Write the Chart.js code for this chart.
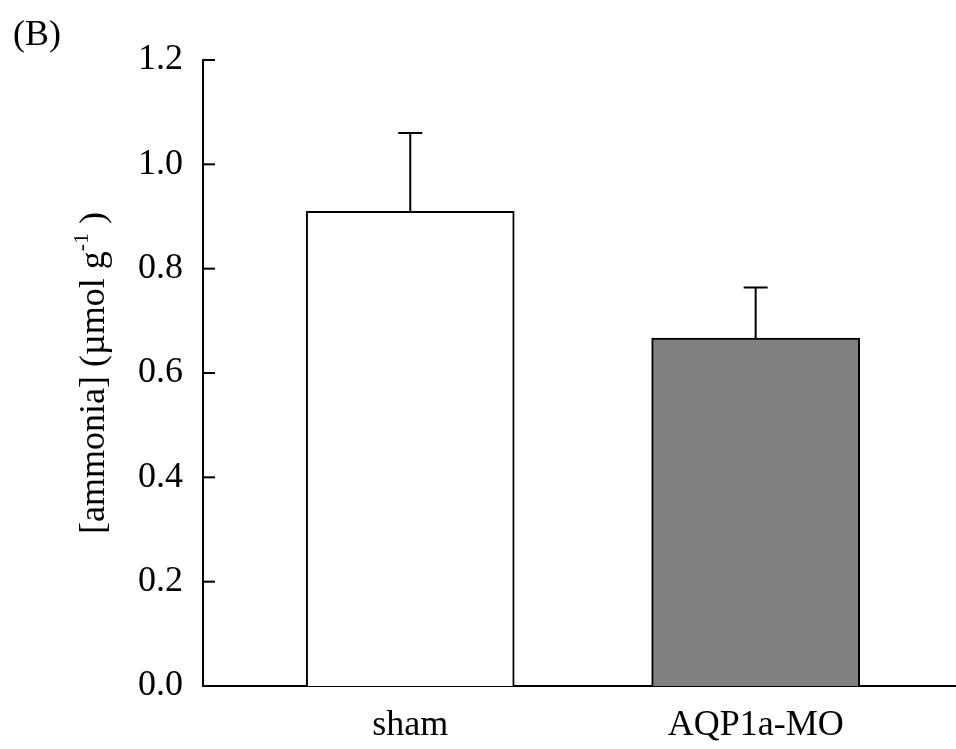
<!DOCTYPE html>
<html>
<head>
<meta charset="utf-8">
<script src="https://cdn.jsdelivr.net/npm/chart.js@4"></script>
<style>
    body { margin: 0; background: white; }
    #wrap { width: 956px; height: 749px; }
</style>
</head>
<body>
<div id="wrap"><canvas id="barchart"></canvas></div>
<script>
const groups = ['sham', 'AQP1a-MO'];
const groupPos = [1, 2];
const means = [0.91, 0.667];
const errors = [0.15, 0.097];
const yTicks = [0, 0.2, 0.4, 0.6, 0.8, 1.0, 1.2];
const barColors = ['#ffffff', '#808080'];

const FONT = "'Liberation Serif', 'Times New Roman', serif";

// inward ticks on the y axis, error bars, title with superscript, panel letter
const extras = {
    id: 'extras',
    afterDatasetsDraw(chart) {
        const ctx = chart.ctx;
        const x = chart.scales.x;
        const y = chart.scales.y;
        const area = chart.chartArea;
        ctx.save();
        ctx.strokeStyle = '#000';
        ctx.lineWidth = 2;

        // error bars (up only)
        means.forEach((m, i) => {
            const px = x.getPixelForValue(groupPos[i]);
            const top = y.getPixelForValue(m + errors[i]);
            const base = y.getPixelForValue(m);
            ctx.beginPath();
            ctx.moveTo(px, base);
            ctx.lineTo(px, top);
            ctx.moveTo(px - 12, top);
            ctx.lineTo(px + 12, top);
            ctx.stroke();
        });

        // ticks pointing inward
        yTicks.forEach((t) => {
            const py = y.getPixelForValue(t);
            ctx.beginPath();
            ctx.moveTo(area.left, py);
            ctx.lineTo(area.left + 12, py);
            ctx.stroke();
        });

        // y title
        ctx.fillStyle = '#000';
        ctx.translate(95, (area.top + area.bottom) / 2);
        ctx.rotate(-Math.PI / 2);
        ctx.textBaseline = 'middle';
        const big = '36px ' + FONT;
        const small = '22px ' + FONT;
        const p1 = '[ammonia] (\u00b5mol g';
        const p2 = '-1';
        const p3 = ' )';
        ctx.font = big;
        const w1 = ctx.measureText(p1).width;
        const w3 = ctx.measureText(p3).width;
        ctx.font = small;
        const w2 = ctx.measureText(p2).width;
        let sx = -(w1 + w2 + w3) / 2;
        ctx.font = big;
        ctx.fillText(p1, sx, 0);
        sx += w1;
        ctx.font = small;
        ctx.fillText(p2, sx, -13);
        sx += w2;
        ctx.font = big;
        ctx.fillText(p3, sx, 0);
        ctx.restore();

        ctx.save();
        ctx.fillStyle = '#000';
        ctx.font = '36px ' + FONT;
        ctx.textBaseline = 'alphabetic';
        ctx.fillText('(B)', 13, 45);
        ctx.restore();
    }
};

new Chart(document.getElementById('barchart'), {
    type: 'bar',
    data: {
        datasets: [{
            data: groupPos.map((p, i) => ({x: p, y: means[i]})),
            backgroundColor: barColors,
            borderColor: '#000',
            borderWidth: 2,
            borderSkipped: 'bottom',
            barThickness: 208
        }]
    },
    options: {
        responsive: true,
        maintainAspectRatio: false,
        animation: false,
        layout: { padding: { top: 60, left: 0, right: 0, bottom: 0 } },
        plugins: { legend: { display: false }, tooltip: { enabled: false } },
        scales: {
            x: {
                type: 'linear',
                offset: false,
                min: 0.4,
                max: 2.58,
                afterBuildTicks: (scale) => { scale.ticks = groupPos.map(v => ({value: v})); },
                afterFit: (scale) => { scale.height = 63; },
                ticks: {
                    color: '#000',
                    font: { family: FONT, size: 36 },
                    padding: 18,
                    maxRotation: 0,
                    callback: (v) => groups[groupPos.indexOf(v)]
                },
                grid: { display: false, drawTicks: false },
                border: { color: '#000', width: 2 }
            },
            y: {
                min: 0,
                max: 1.2,
                afterBuildTicks: (scale) => { scale.ticks = yTicks.map(v => ({value: v})); },
                afterFit: (scale) => { scale.width = 203; },
                ticks: {
                    color: '#000',
                    font: { family: FONT, size: 36 },
                    padding: 20,
                    callback: (v) => v.toFixed(1)
                },
                grid: { display: false, drawTicks: false },
                border: { color: '#000', width: 2 }
            }
        }
    },
    plugins: [extras]
});
</script>
</body>
</html>
